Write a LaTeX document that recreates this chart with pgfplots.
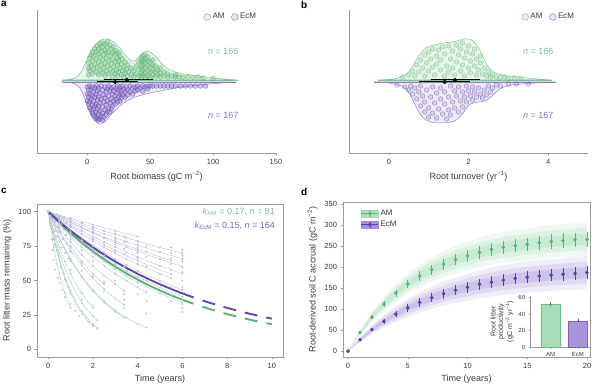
\documentclass[border=0pt]{standalone}
\usepackage{fontspec}
\setmainfont{Liberation Sans}
\usepackage{pgfplots}
\pgfplotsset{compat=1.18}
\usepackage{pgfplotstable}

\definecolor{amline}{HTML}{5DB36E}
\definecolor{ecline}{HTML}{6246AE}
\definecolor{amtext}{HTML}{74C48F}
\definecolor{ectext}{HTML}{8A6FC9}
\definecolor{amfill}{HTML}{E6F4E9}
\definecolor{ecfill}{HTML}{EEE9F7}
\definecolor{amedge}{HTML}{7AC592}
\definecolor{ecedge}{HTML}{927DCB}
\definecolor{amdot}{HTML}{6DBE84}
\definecolor{ecdot}{HTML}{8C72CC}
\definecolor{axgray}{HTML}{9A9A9A}
\definecolor{txtgray}{HTML}{3A3A3A}
\definecolor{thinl}{HTML}{B4C0D3}
\definecolor{dam}{HTML}{58B474}
\definecolor{dec}{HTML}{5B3FA6}
\definecolor{amband}{HTML}{8FD3A4}
\definecolor{ecband}{HTML}{9D86D6}
\definecolor{ambar}{HTML}{A9DDB8}
\definecolor{ambaredge}{HTML}{6DBE84}
\definecolor{ecbar}{HTML}{A795D8}
\definecolor{ecbaredge}{HTML}{7B62C0}
\colorlet{pdot}{ecdot!50}
\colorlet{gdot}{amdot!55}

\pgfplotstableread{
t m e
0 0 0
1 44 3
2 81 5
3 112 7
4 138 8
5 160 10
6 179 11
7 194 12
8 207 13
9 218 14
10 227 14
11 235 15
12 242 15
13 247 16
14 251 16
15 254 16
16 258 17
17 261 17
18 263 17
19 265 17
20 266 17
}\amtab

\pgfplotstableread{
t m e
0 0 0
1 27 2
2 51 4
3 71 6
4 88 7
5 103 9
6 116 10
7 127 11
8 137 12
9 145 12
10 152 13
11 159 13
12 164 14
13 169 14
14 173 14
15 176 15
16 179 15
17 181 15
18 183 15
19 185 15
20 187 15
}\ectab

\pgfplotsset{
  base/.style={scale only axis, anchor=south west,
    axis line style={axgray, line width=0.5pt},
    every tick/.style={axgray, line width=0.5pt},
    tick align=outside, major tick length=2.5pt,
    tick label style={font=\fontsize{7.5}{8}\selectfont, text=txtgray},
    label style={font=\fontsize{9}{10}\selectfont, text=txtgray},
    /pgf/number format/assume math mode=true},
  amsc/.style={only marks, mark=*, mark size=2.4pt, mark options={draw=amline, fill=amdot, fill opacity=0.4, draw opacity=0.7, line width=0.4pt}},
  ecsc/.style={only marks, mark=*, mark size=2.4pt, mark options={draw=ecline, fill=ecdot, fill opacity=0.4, draw opacity=0.7, line width=0.4pt}},
  amsc2/.style={only marks, mark=*, mark size=2.3pt, mark options={draw=amline, fill=amdot, fill opacity=0.2, draw opacity=0.6, line width=0.4pt}},
  ecsc2/.style={only marks, mark=*, mark size=2.3pt, mark options={draw=ecline, fill=ecdot, fill opacity=0.2, draw opacity=0.6, line width=0.4pt}},
  thinp/.style={color=thinl, line width=0.35pt, smooth, mark=*, mark size=0.8pt, mark options={fill=pdot, draw=pdot, solid}},
  thing/.style={color=thinl!80!amdot, line width=0.35pt, smooth, mark=*, mark size=0.8pt, mark options={fill=gdot, draw=gdot, solid}},
}

\begin{document}
\begin{tikzpicture}[x=1pt,y=1pt]
\useasboundingbox (0,0) rectangle (600,385);

\node[anchor=north west, inner sep=0pt, font=\bfseries\fontsize{10}{10}\selectfont] at (1,384) {a};
\node[anchor=north west, inner sep=0pt, font=\bfseries\fontsize{10}{10}\selectfont] at (301,384) {b};
\node[anchor=north west, inner sep=0pt, font=\bfseries\fontsize{10}{10}\selectfont] at (1,197) {c};
\node[anchor=north west, inner sep=0pt, font=\bfseries\fontsize{10}{10}\selectfont] at (301,197) {d};

% ---------------- panel a ----------------
\begin{axis}[base, at={(37pt,232pt)}, width=239pt, height=143pt,
  xmin=-40, xmax=150, ymin=-73, ymax=70,
  axis x line*=bottom, axis y line*=left, ytick=\empty, xtick={0,50,100,150},
  xlabel={Root biomass (gC m\textsuperscript{−2})},
  legend columns=2,
  legend style={draw=none, fill=none, at={(0.685,0.951)}, anchor=west, font=\fontsize{8}{9}\selectfont\color{txtgray},
    /tikz/every even column/.append style={column sep=5pt}},
  clip=false]
\addlegendimage{only marks, mark=*, mark size=3.3pt, mark options={draw=amedge, fill=amfill, line width=0.5pt}}
\addlegendentry{AM}
\addlegendimage{only marks, mark=*, mark size=3.3pt, mark options={draw=ecedge, fill=ecfill, line width=0.5pt}}
\addlegendentry{EcM}
\addplot[fill=amfill, draw=amedge, line width=0.5pt, smooth, forget plot] coordinates {(-20,0)(-15,0.5)(-10,2)(-6,6)(-3,13)(0,21)(3,29)(6,35)(10,39.5)(14,41)(18,40)(22,37)(26,32)(30,25)(34,20)(37,19)(40,21.5)(43,26)(46,28.5)(50,28)(54,24)(58,18)(62,13)(66,10)(70,8)(75,6.5)(80,5.5)(86,4.5)(92,3.2)(100,2)(108,1)(115,0.4)(120,0)} -- cycle;
\addplot[fill=ecfill, draw=ecedge, line width=0.5pt, smooth, forget plot] coordinates {(-20,-2)(-15,-2.5)(-10,-4)(-6,-8)(-3,-15)(0,-26)(3,-35)(6,-41)(9,-44)(12,-43.5)(16,-39)(20,-33)(25,-27)(30,-22)(36,-18)(42,-15.5)(50,-13)(58,-11)(66,-9)(75,-7)(85,-5.5)(95,-4.3)(105,-3.2)(112,-2.5)(118,-2)} -- cycle;
\addplot[amedge, line width=0.7pt, forget plot] coordinates {(-20,0)(120,0)};
\addplot[ecedge, line width=0.7pt, forget plot] coordinates {(-20,-2)(118,-2)};
\addplot[amsc, forget plot] coordinates {(1,5)(1,12)(1,17)(2,9)(2,22)(3,14)(3,25)(4,6)(4,19)(4,28)(5,11)(5,24)(6,16)(6,31)(7,8)(7,21)(7,28)(8,13)(8,34)(9,5)(9,18)(9,26)(9,31)(10,10)(10,23)(10,36)(11,15)(11,29)(12,7)(12,20)(12,33)(12,37)(13,12)(13,25)(14,4)(14,17)(14,30)(14,36)(15,9)(15,22)(15,27)(16,14)(16,33)(16,38)(17,6)(17,19)(17,28)(18,11)(18,24)(18,35)(19,16)(19,31)(20,3)(20,8)(20,21)(20,27)(21,13)(21,33)(22,6)(22,18)(22,26)(23,10)(23,29)(24,4)(24,15)(24,22)(25,8)(25,19)(25,27)(26,12)(26,24)(27,5)(27,16)(28,9)(28,21)(29,3)(29,13)(30,7)(30,18)(31,11)(32,4)(32,15)(33,8)(35,5)(35,12)(37,3)(37,9)(39,6)(39,14)(41,4)(41,11)(41,18)(43,3)(43,8)(43,13)(43,18)(43,22)(44,5)(44,10)(44,15)(44,20)(44,24)(46,3)(46,7)(46,12)(46,17)(46,21)(46,25)(48,4)(48,9)(48,14)(48,19)(48,23)(50,3)(50,8)(50,13)(50,18)(52,5)(52,10)(52,15)(52,20)(54,3)(54,8)(54,14)(56,5)(56,10)(58,3)(58,7)(58,12)(61,4)(61,8)(64,3)(64,6)(67,4)(70,3)(70,5)(73,3)(76,2.5)(80,3)(84,2.5)(88,3)(92,2)(100,1.5)};
\addplot[ecsc, forget plot] coordinates {(0,-7)(0,-14)(0,-21)(1,-10)(1,-17)(1,-24)(2,-6)(2,-14)(2,-22)(2,-28)(3,-10)(3,-19)(3,-30)(4,-7)(4,-16)(4,-25)(4,-33)(5,-12)(5,-21)(5,-29)(5,-35)(6,-8)(6,-17)(6,-26)(6,-36)(7,-6)(7,-14)(7,-24)(7,-32)(7,-38)(8,-11)(8,-20)(8,-29)(8,-39)(9,-8)(9,-17)(9,-26)(9,-34)(9,-40)(10,-13)(10,-23)(10,-31)(10,-39)(11,-6)(11,-19)(11,-36)(12,-10)(12,-27)(12,-33)(12,-40)(13,-15)(13,-22)(13,-37)(14,-7)(14,-18)(14,-30)(15,-12)(15,-25)(15,-35)(16,-9)(16,-21)(16,-32)(17,-6)(17,-16)(17,-28)(18,-11)(18,-23)(18,-32)(19,-8)(19,-19)(19,-29)(20,-14)(20,-26)(21,-7)(21,-11)(21,-21)(22,-16)(22,-24)(23,-9)(23,-19)(24,-6)(24,-13)(24,-22)(25,-10)(25,-17)(26,-7)(26,-14)(26,-21)(27,-11)(27,-18)(28,-6)(28,-15)(29,-9)(30,-12)(30,-17)(31,-7)(32,-10)(32,-15)(34,-6)(34,-12)(36,-8)(36,-14)(38,-7)(38,-11)(40,-6)(40,-10)(42,-8)(44,-6)(44,-11)(46,-7)(48,-6)(48,-9)(50,-6)(52,-6)(55,-6)(58,-6)(61,-6)(64,-6)(67,-6)(70,-6)(74,-6)(78,-6)(82,-6)(86,-6)(90,-6)(94,-6)};
\addplot[black, line width=1pt, forget plot] coordinates {(13,0)(52,0)};
\addplot[black, line width=1pt, forget plot] coordinates {(8,-2)(40,-2)};
\addplot[only marks, mark=*, mark size=1.9pt, black, forget plot] coordinates {(31.5,0)(22.2,-2)};
\node[text=amtext, font=\fontsize{9}{10}\selectfont] at (axis cs:108,29) {\textit{n} = 166};
\node[text=ectext, font=\fontsize{9}{10}\selectfont] at (axis cs:108,-35) {\textit{n} = 167};
\end{axis}

% ---------------- panel b ----------------
\begin{axis}[base, at={(349pt,232pt)}, width=239pt, height=143pt,
  xmin=-1, xmax=5, ymin=-73, ymax=70,
  axis x line*=bottom, axis y line*=left, ytick=\empty, xtick={0,2,4},
  xlabel={Root turnover (yr\textsuperscript{−1})},
  legend columns=2,
  legend style={draw=none, fill=none, at={(0.71,0.951)}, anchor=west, font=\fontsize{8}{9}\selectfont\color{txtgray},
    /tikz/every even column/.append style={column sep=5pt}},
  clip=false]
\addlegendimage{only marks, mark=*, mark size=3.3pt, mark options={draw=amedge, fill=amfill, line width=0.5pt}}
\addlegendentry{AM}
\addlegendimage{only marks, mark=*, mark size=3.3pt, mark options={draw=ecedge, fill=ecfill, line width=0.5pt}}
\addlegendentry{EcM}
\addplot[fill=amfill, draw=amedge, line width=0.5pt, smooth, forget plot] coordinates {(-0.28,0)(0,0.6)(0.2,1.5)(0.35,4)(0.5,8)(0.6,14)(0.7,21)(0.8,27)(0.9,31)(1.0,33.5)(1.15,35)(1.3,36.5)(1.45,37.5)(1.6,38)(1.75,39.5)(1.9,41)(2.0,41)(2.1,39.5)(2.2,35)(2.3,29)(2.4,20)(2.5,13)(2.6,9)(2.75,6)(3.0,4)(3.25,3)(3.5,1.8)(3.8,0.8)(4.09,0)} -- cycle;
\addplot[fill=ecfill, draw=ecedge, line width=0.5pt, smooth, forget plot] coordinates {(-0.37,-2)(0,-3)(0.3,-5.7)(0.45,-10)(0.55,-16)(0.65,-24)(0.72,-30)(0.82,-36)(0.93,-40)(1.1,-42.5)(1.3,-43)(1.5,-42.5)(1.63,-41.5)(1.72,-39)(1.8,-36)(1.9,-31)(1.97,-27)(2.05,-24)(2.13,-23)(2.25,-22)(2.38,-21.4)(2.5,-19)(2.63,-14.7)(2.75,-10)(2.88,-7)(3.1,-5)(3.45,-3.7)(3.8,-2.7)(4.2,-2)} -- cycle;
\addplot[amedge, line width=0.7pt, forget plot] coordinates {(-0.28,0)(4.09,0)};
\addplot[ecedge, line width=0.7pt, forget plot] coordinates {(-0.37,-2)(4.2,-2)};
\addplot[amsc2, forget plot] coordinates {(0.35,3)(0.5,5)(0.6,9)(0.65,4)(0.7,15)(0.75,8)(0.8,20)(0.85,12)(0.9,25)(0.9,4)(0.95,17)(1.0,28)(1.0,9)(1.05,21)(1.1,13)(1.1,31)(1.15,5)(1.2,24)(1.2,16)(1.25,30)(1.3,10)(1.3,20)(1.35,33)(1.4,4)(1.4,26)(1.45,14)(1.5,34)(1.5,8)(1.55,21)(1.6,29)(1.6,12)(1.65,5)(1.7,35)(1.7,18)(1.75,25)(1.8,9)(1.8,31)(1.85,15)(1.85,37)(1.9,22)(1.9,4)(1.95,28)(2.0,12)(2.0,34)(2.05,19)(2.05,7)(2.1,26)(2.15,14)(2.15,31)(2.2,5)(2.2,21)(2.25,10)(2.3,17)(2.3,24)(2.35,6)(2.4,12)(2.45,4)(2.5,8)(2.55,3)(2.6,5)(2.7,3)(2.8,2.5)(2.9,3)(3.0,2)(3.15,2)(3.3,2)};
\addplot[ecsc2, forget plot] coordinates {(0.2,-5)(0.4,-7)(0.5,-10)(0.55,-6)(0.6,-14)(0.65,-8)(0.7,-19)(0.75,-12)(0.8,-26)(0.8,-6)(0.85,-16)(0.9,-32)(0.9,-22)(0.95,-10)(1.0,-37)(1.0,-28)(1.05,-17)(1.1,-7)(1.1,-33)(1.15,-23)(1.2,-13)(1.2,-38)(1.25,-29)(1.3,-19)(1.3,-8)(1.35,-34)(1.4,-24)(1.4,-12)(1.45,-39)(1.5,-17)(1.5,-30)(1.55,-6)(1.55,-35)(1.6,-22)(1.65,-11)(1.65,-28)(1.7,-16)(1.75,-32)(1.75,-7)(1.8,-21)(1.85,-12)(1.85,-27)(1.9,-17)(1.95,-6)(1.95,-22)(2.0,-11)(2.05,-16)(2.1,-7)(2.1,-20)(2.15,-12)(2.2,-17)(2.25,-8)(2.3,-14)(2.35,-18)(2.4,-10)(2.45,-15)(2.5,-6)(2.55,-12)(2.6,-8)(2.7,-5)(2.8,-6)(3.0,-4)(3.2,-4)(3.5,-4)};
\addplot[black, line width=1pt, forget plot] coordinates {(1.05,0)(2.3,0)};
\addplot[black, line width=1pt, forget plot] coordinates {(0.76,-2)(2.05,-2)};
\addplot[only marks, mark=*, mark size=1.9pt, black, forget plot] coordinates {(1.66,0)(1.4,-2)};
\node[text=amtext, font=\fontsize{9}{10}\selectfont] at (axis cs:3.75,29) {\textit{n} = 166};
\node[text=ectext, font=\fontsize{9}{10}\selectfont] at (axis cs:3.75,-35) {\textit{n} = 167};
\end{axis}

% ---------------- panel c ----------------
\begin{axis}[base, at={(37pt,28pt)}, width=246pt, height=153pt,
  xmin=-0.5, xmax=10.5, ymin=-5.5, ymax=105.5,
  xtick={0,2,4,6,8,10}, ytick={0,25,50,75,100},
  xtick pos=bottom, ytick pos=left,
  xlabel={Time (years)}, ylabel={Root litter mass remaining (\%)}]
\addplot[thinp] coordinates {(0,100)(0.5,97)(1,94)(1.5,91.4)(2,88.7)(2.5,86)(3,83.5)(3.5,81)(4,78.7)(5,74)(6,69.8)};
\addplot[thinp] coordinates {(0,100)(0.5,96.6)(1,93.2)(1.5,90)(2,86.9)(2.5,83.9)(3,81)(3.5,78.3)(4,75.6)(5,70.5)(6,65.7)};
\addplot[thinp] coordinates {(0,100)(0.5,95.8)(1,91.9)(1.5,88)(2,84.4)(2.5,80.9)(3,77.5)(3.5,74.3)(4,71.2)(5,65.4)(6,60)};
\addplot[thinp] coordinates {(0,100)(0.5,95.1)(1,90.5)(1.5,86.1)(2,81.9)(2.5,77.9)(3,74.1)(3.5,70.5)(4,67)(5,60.7)(6,54.9)};
\addplot[thinp] coordinates {(0,100)(0.5,94.2)(1,88.7)(1.5,83.5)(2,78.7)(2.5,74.1)(3,69.8)(3.5,65.7)(4,61.9)(5,54.9)(5.5,51.7)};
\addplot[thinp] coordinates {(0,100)(0.5,93.2)(1,86.9)(1.5,81.1)(2,75.6)(2.5,70.5)(3,65.7)(3.5,61.3)(4,57.1)(5,49.7)(6,43.2)};
\addplot[thing] coordinates {(0,100)(0.5,90.5)(1,81.9)(1.5,74.1)(2,67)(2.5,60.7)(3,54.9)(3.5,49.7)(4,44.9)(4.4,41.5)};
\addplot[thinp] coordinates {(0,100)(0.5,88.2)(1,77.9)(1.5,68.7)(2,60.7)(2.5,53.5)(3,47.2)(3.4,42.7)};
\addplot[thing] coordinates {(0,100)(0.5,84.8)(1,71.9)(1.5,61)(2,51.7)(2.5,43.8)(3,37.2)(3.4,32.5)};
\addplot[thinp] coordinates {(0,100)(0.5,80.7)(1,65)(1.5,52.4)(2,42.3)(2.5,34.1)(3,27.5)(3.4,23.2)};
\addplot[thing] coordinates {(0,100)(0.5,81)(1,65.7)(1.5,53.3)(2,43.2)(2.5,35)(3,28.4)(3.5,23)(4,18.6)(4.4,15.7)};
\addplot[thing] coordinates {(0,100)(0.5,65.4)(1,42.7)(1.5,27.9)(2,18.3)(2.2,15.4)};
\addplot[thing] coordinates {(0,100)(0.25,86)(0.5,74)(0.75,63.8)(1,54.9)(1.5,40.7)(2,30.1)};
\addplot[thing] coordinates {(0,100)(0.25,74)(0.5,54.9)(0.75,40.7)(1,30.1)};
\addplot[thinp] coordinates {(0,100)(0.5,91.4)(1,83.5)(1.5,76.3)(2,69.8)(2.5,63.8)(3,58.3)(3.5,53.3)(4,48.7)(5,40.7)(6,34)};
\addplot[thinp] coordinates {(0,100)(0.5,92.3)(1,85.2)(1.5,78.7)(2,72.6)(2.5,67)(3,61.9)(3.5,57.1)(4,52.7)(5,44.9)(6,38.3)};
\addplot[thinp] coordinates {(0,100)(1,89.6)(2,80.3)(3,71.9)(4,64.4)(5.5,54.6)};
\addplot[thinp] coordinates {(0,100)(1,92.3)(2,85.2)(3,78.7)(4,72.6)(5.5,64.4)};
\addplot[thinp] coordinates {(0,100)(1,95.1)(2,90.5)(3,86.1)(4,81.9)};
\addplot[thinp] coordinates {(0,100)(0.5,86.1)(1,74.1)(1.5,63.8)(2,54.9)(2.5,47.2)};
\addplot[thing] coordinates {(0,100)(0.5,70)(1,49)(1.5,34)(2,24)(2.2,21)};
\addplot[thing] coordinates {(0,100)(0.25,80)(0.5,64)(0.75,51)(1,41)(1.5,26)(2,17)};
\addplot[pdot, only marks, mark=*, mark size=0.8pt, mark options={fill=pdot, draw=pdot}] coordinates {(0.1,97)(0.1,92)(0.15,88)(0.2,95)(0.2,85)(0.25,90)(0.25,80)(0.3,93)(0.3,76)(0.35,86)(0.4,98)(0.4,82)(0.4,72)(0.45,89)(0.5,94)(0.5,78)(0.5,68)(0.55,85)(0.6,91)(0.6,74)(0.65,80)(0.7,96)(0.7,87)(0.75,70)(0.8,83)(0.8,92)(0.85,77)(0.9,88)(0.9,66)(1,95)(1,90)(1,85)(1,80)(1,75)(1,71)(1,64)(1,58)(1.5,92)(1.5,86)(1.5,79)(1.5,72)(1.5,63)(1.5,57)(2,88)(2,84)(2,80)(2,75)(2,70)(2,64)(2,53)(2.5,86)(2.5,81)(2.5,76)(2.5,68)(2.5,49)(3,84)(3,80)(3,76)(3,71)(3,62)(3,55)(3.4,82)(3.4,78)(3.4,73)(3.4,69)(3.4,60)(3.4,40)(3.4,36)(4,78)(4,74)(4,70)(4,66)(4,57)(4.4,75)(4.4,71)(4.4,67)(4.4,60)(4.4,50)(4.4,26)(5.5,74)(5.5,70)(5.5,66)(5.5,62)(5.5,58)(5.5,45)(5.5,35)(6,72)(6,68)(6,64)(6,60)(6,56)(6,50)(6,45)(6,36)(6,30)(6,27)};
\addplot[gdot, only marks, mark=*, mark size=0.8pt, mark options={fill=gdot, draw=gdot}] coordinates {(0.1,90)(0.15,80)(0.2,72)(0.25,65)(0.3,86)(0.3,58)(0.35,75)(0.4,62)(0.45,52)(0.5,68)(0.5,48)(0.55,60)(0.6,43)(0.7,55)(0.75,38)(0.8,50)(0.9,45)(1,40)(1,33)(1.2,28)(1.4,24)(1.5,36)(1.8,20)(2,17)(2.2,15)(2,32)(2.5,42)(3,50)(3.4,30)(4,40)(4.4,35)(5.5,40)(6,33)};
% fitted curves
\addplot[amline, line width=1.9pt, smooth] coordinates {(0,100)(0.5,91.87)(1,84.37)(1.5,77.49)(2,71.18)(2.5,65.38)(3,60.05)(3.5,55.16)(4,50.66)(4.5,46.53)(5,42.74)(5.5,39.26)(6,36.06)(6.5,33.12)};
\addplot[ecline, line width=1.9pt, smooth] coordinates {(0,100)(0.5,92.77)(1,86.07)(1.5,79.85)(2,74.08)(2.5,68.73)(3,63.76)(3.5,59.16)(4,54.88)(4.5,50.92)(5,47.24)(5.5,43.82)(6,40.66)(6.5,37.72)};
\addplot[amline, line width=1.9pt, smooth, dash pattern=on 13pt off 9pt] coordinates {(6.9,30.94)(7,30.42)(7.5,27.94)(8,25.66)(8.5,23.57)(9,21.65)(9.5,19.89)(10,18.27)};
\addplot[ecline, line width=1.9pt, smooth, dash pattern=on 13pt off 9pt] coordinates {(6.9,35.52)(7,34.99)(7.5,32.47)(8,30.12)(8.5,27.94)(9,25.92)(9.5,24.05)(10,22.31)};
\node[anchor=east, text=amtext, font=\fontsize{9}{10}\selectfont] at (axis cs:10.3,99.8) {\textit{k}\textsubscript{AM} = 0.17, \textit{n} = 81};
\node[anchor=east, text=ecline!85, font=\fontsize{9}{10}\selectfont] at (axis cs:10.3,89.6) {\textit{k}\textsubscript{EcM} = 0.15, \textit{n} = 164};
\end{axis}

% ---------------- panel d ----------------
\begin{axis}[base, at={(343pt,28pt)}, width=247pt, height=155pt,
  xmin=-0.42, xmax=20.25, ymin=-14, ymax=355,
  xtick={0,5,10,15,20}, ytick={0,50,100,150,200,250,300,350},
  xtick pos=bottom, ytick pos=left,
  xlabel={Time (years)}, ylabel={Root-derived soil C accrual (gC m\textsuperscript{−2})},
  legend style={draw=none, fill=none, at={(0.06,0.975)}, anchor=north west, font=\fontsize{8}{9}\selectfont\color{txtgray}},
  legend cell align=left]
\addlegendimage{legend image code/.code={
  \fill[amband, opacity=0.7] (0pt,-3.5pt) rectangle (17pt,3.5pt);
  \draw[dam, line width=0.6pt] (0pt,0pt) -- (17pt,0pt);
  \draw[dam, line width=0.6pt] (8.5pt,-3pt) -- (8.5pt,3pt);
  \fill[dam] (8.5pt,0pt) circle (1.6pt);}}
\addlegendentry{AM}
\addlegendimage{legend image code/.code={
  \fill[ecband, opacity=0.9] (0pt,-3.5pt) rectangle (17pt,3.5pt);
  \draw[dec, line width=0.6pt] (0pt,0pt) -- (17pt,0pt);
  \draw[dec, line width=0.6pt] (8.5pt,-3pt) -- (8.5pt,3pt);
  \fill[dec] (8.5pt,0pt) circle (1.6pt);}}
\addlegendentry{EcM}
% AM bands
\addplot[fill=amband, fill opacity=0.15, draw=none, forget plot] coordinates {(0,0)(1,50.6)(2,93)(3,129)(4,159)(5,184)(6,206)(7,223)(8,238)(9,251)(10,261)(11,270)(12,278)(13,284)(14,289)(15,292)(16,297)(17,300)(18,302)(19,305)(20,306)(20,226)(19,225)(18,224)(17,222)(16,219)(15,216)(14,213)(13,210)(12,206)(11,200)(10,193)(9,185)(8,176)(7,165)(6,152)(5,136)(4,117)(3,95)(2,69)(1,37.4)} -- cycle;
\addplot[fill=amband, fill opacity=0.2, draw=none, forget plot] coordinates {(0,0)(1,48.4)(2,89)(3,123)(4,152)(5,176)(6,197)(7,213)(8,228)(9,240)(10,250)(11,259)(12,266)(13,272)(14,276)(15,279)(16,284)(17,287)(18,289)(19,292)(20,293)(20,239)(19,239)(18,237)(17,235)(16,232)(15,229)(14,226)(13,222)(12,218)(11,212)(10,204)(9,196)(8,186)(7,175)(6,161)(5,144)(4,124)(3,101)(2,73)(1,39.6)} -- cycle;
\addplot[fill=amband, fill opacity=0.25, draw=none, forget plot] coordinates {(0,0)(1,46.2)(2,85)(3,118)(4,145)(5,168)(6,188)(7,204)(8,217)(9,229)(10,238)(11,247)(12,254)(13,259)(14,264)(15,267)(16,271)(17,274)(18,276)(19,278)(20,279)(20,253)(19,252)(18,250)(17,248)(16,245)(15,241)(14,238)(13,235)(12,230)(11,223)(10,216)(9,207)(8,197)(7,184)(6,170)(5,152)(4,131)(3,106)(2,77)(1,41.8)} -- cycle;
% EcM bands
\addplot[fill=ecband, fill opacity=0.15, draw=none, forget plot] coordinates {(0,0)(1,32.7)(2,61.7)(3,85.9)(4,106.5)(5,124.6)(6,140.4)(7,153.7)(8,165.8)(9,175.5)(10,183.9)(11,192.4)(12,198.4)(13,204.5)(14,209.3)(15,213)(16,216.6)(17,219)(18,221.4)(19,223.9)(20,226.3)(20,147.7)(19,146.2)(18,144.6)(17,143)(16,141.4)(15,139)(14,136.7)(13,133.5)(12,129.6)(11,125.6)(10,120.1)(9,114.6)(8,108.2)(7,100.3)(6,91.6)(5,81.4)(4,69.5)(3,56.1)(2,40.3)(1,21.3)} -- cycle;
\addplot[fill=ecband, fill opacity=0.2, draw=none, forget plot] coordinates {(0,0)(1,30.8)(2,58.1)(3,80.9)(4,100.3)(5,117.4)(6,132.2)(7,144.8)(8,156.2)(9,165.3)(10,173.3)(11,181.3)(12,187)(13,192.7)(14,197.2)(15,200.6)(16,204.1)(17,206.3)(18,208.6)(19,210.9)(20,213.2)(20,160.8)(19,159.1)(18,157.4)(17,155.7)(16,153.9)(15,151.4)(14,148.8)(13,145.3)(12,141)(11,136.7)(10,130.7)(9,124.7)(8,117.8)(7,109.2)(6,99.8)(5,88.6)(4,75.7)(3,61.1)(2,43.9)(1,23.2)} -- cycle;
\addplot[fill=ecband, fill opacity=0.28, draw=none, forget plot] coordinates {(0,0)(1,28.9)(2,54.6)(3,76)(4,94.2)(5,110.2)(6,124.1)(7,135.9)(8,146.6)(9,155.2)(10,162.6)(11,170.1)(12,175.5)(13,180.8)(14,185.1)(15,188.3)(16,191.5)(17,193.7)(18,195.8)(19,198)(20,200.1)(20,173.9)(19,172)(18,170.2)(17,168.3)(16,166.5)(15,163.7)(14,160.9)(13,157.2)(12,152.5)(11,147.9)(10,141.4)(9,134.9)(8,127.4)(7,118.1)(6,107.9)(5,95.8)(4,81.8)(3,66)(2,47.4)(1,25.1)} -- cycle;
\addplot[only marks, mark=*, mark size=1.6pt, dam, forget plot,
  error bars/.cd, y dir=both, y explicit, error mark=none, error bar style={dam, line width=0.6pt}]
  table[x=t, y=m, y error=e]{\amtab};
\addplot[only marks, mark=*, mark size=1.6pt, dec, forget plot,
  error bars/.cd, y dir=both, y explicit, error mark=none, error bar style={dec, line width=0.6pt}]
  table[x=t, y=m, y error=e]{\ectab};
\end{axis}

% inset
\begin{axis}[base, at={(530.7pt,37.7pt)}, width=59.3pt, height=51.5pt,
  xmin=-0.73, xmax=1.44, ymin=0, ymax=62,
  axis x line*=bottom, axis y line*=left,
  xtick={0,1}, xticklabels={AM,EcM}, ytick={0,20,40,60},
  major tick length=2pt,
  tick label style={font=\fontsize{6}{7}\selectfont, text=txtgray},
  ylabel={Root litter\\productivity\\(gC m\textsuperscript{−2} yr\textsuperscript{−1})},
  ylabel style={align=center, font=\fontsize{7}{7.5}\selectfont, text=txtgray, yshift=-2pt}]
\addplot[ybar, bar width=19.5pt, bar shift=0pt, fill=ambar, draw=ambaredge, line width=0.5pt,
  error bars/.cd, y dir=both, y explicit, error mark=none, error bar style={dam!80!black, line width=0.6pt}]
  coordinates {(0,52.3) +- (0,2.5)};
\addplot[ybar, bar width=19.5pt, bar shift=0pt, fill=ecbar, draw=ecbaredge, line width=0.5pt,
  error bars/.cd, y dir=both, y explicit, error mark=none, error bar style={dec, line width=0.6pt}]
  coordinates {(1,31.7) +- (0,1.8)};
\end{axis}
\end{tikzpicture}
\end{document}
